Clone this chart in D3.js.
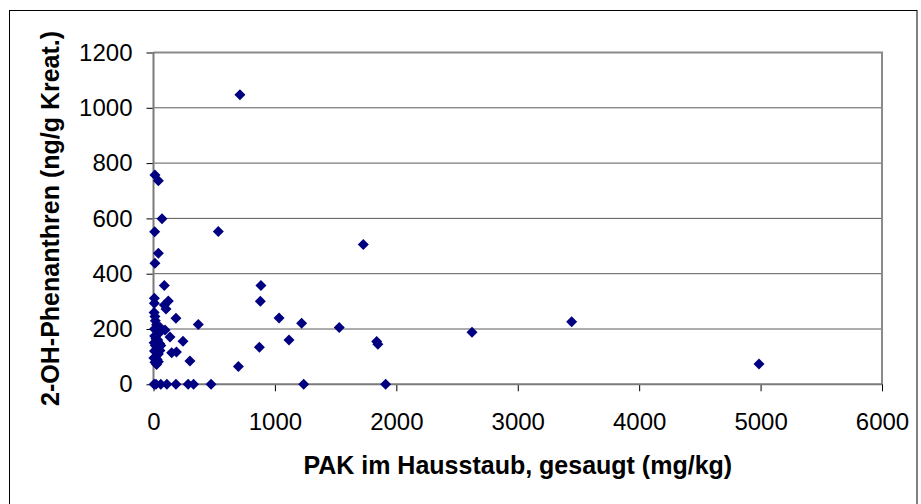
<!DOCTYPE html>
<html>
<head>
<meta charset="utf-8">
<script src="https://cdn.jsdelivr.net/npm/d3@7"></script>
<style>
  body { margin: 0; background: #fff; }
  svg text { font-family: Arial, "Liberation Sans", sans-serif; fill: #000; }
  .tick text { font-size: 24px; }
  .titles { font-size: 25px; font-weight: bold; }
</style>
</head>
<body>
<svg id="chart" width="921" height="504"></svg>
<script>
// PAK im Hausstaub (mg/kg) vs 2-OH-Phenanthren (ng/g Kreat.)
var pakValues = [
  712, 534, 1728, 885, 880, 1034, 1220, 1530, 1116, 1838, 1848, 872, 699,
  474, 1237, 1912, 2623, 3444, 4987,
  12, 40, 70, 10, 40, 12, 89, 7, 7, 122, 89, 103, 12, 185, 369, 136, 243, 150, 189, 300, 95, 53, 40,
  5, 20, 60, 110, 185, 285, 330,
  5, 15, 25, 8, 30, 45, 10, 20, 35, 5, 50, 15, 28, 8, 40, 18, 3, 30, 12, 25, 55, 60
];
var ohpValues = [
  1047, 553, 506, 357, 300, 240, 221, 205, 160, 155, 145, 134, 64,
  0, 0, 0, 188, 226, 73,
  757, 736, 599, 552, 474, 438, 357, 311, 293, 301, 287, 272, 245, 239, 216, 171, 156, 114, 117, 84, 196, 122, 82,
  0, 0, 0, 0, 0, 0, 0,
  260, 230, 215, 200, 195, 185, 175, 165, 160, 150, 148, 140, 130, 120, 110, 100, 95, 90, 80, 72, 205, 140
];
var xTicks = [0, 1000, 2000, 3000, 4000, 5000, 6000];
var yTicks = [0, 200, 400, 600, 800, 1000, 1200];
var xTitle = "PAK im Hausstaub, gesaugt (mg/kg)";
var yTitle = "2-OH-Phenanthren (ng/g Kreat.)";

var svg = d3.select("#chart");

// plot area
var pLeft = 153.5, pRight = 882, pTop = 52.5, pBottom = 384.3;

var x = d3.scaleLinear().domain([0, 6000]).range([pLeft, pRight]);
var y = d3.scaleLinear().domain([0, 1200]).range([pBottom, pTop]);

// chart border (bottom edge runs past the picture)
svg.append("rect")
  .attr("x", 9.5).attr("y", 10.5)
  .attr("width", 907.5).attr("height", 500)
  .attr("fill", "#fff").attr("stroke", "#000").attr("stroke-width", 1);

// gridlines
svg.append("g").selectAll("line")
  .data(yTicks.filter(function(d) { return d > 0; }))
  .enter().append("line")
  .attr("x1", pLeft).attr("x2", pRight)
  .attr("y1", function(d) { return y(d); })
  .attr("y2", function(d) { return y(d); })
  .attr("stroke", "#5a5a5a").attr("stroke-width", 1);

// plot area border (top / right)
svg.append("path")
  .attr("d", "M" + pLeft + "," + pTop + "H" + pRight + "V" + pBottom)
  .attr("fill", "none").attr("stroke", "#8a8a8a").attr("stroke-width", 2);

// axes
var xaxis = svg.append("g")
  .attr("transform", "translate(0," + pBottom + ")")
  .call(d3.axisBottom(x).tickValues(xTicks).tickFormat(d3.format("d"))
    .tickSizeInner(7).tickSizeOuter(0).tickPadding(21));

var yaxis = svg.append("g")
  .attr("transform", "translate(" + pLeft + ",0)")
  .call(d3.axisLeft(y).tickValues(yTicks).tickFormat(d3.format("d"))
    .tickSizeInner(7).tickSizeOuter(0).tickPadding(14));

[xaxis, yaxis].forEach(function(a) {
  a.select(".domain").remove();
  a.selectAll(".tick line").attr("stroke", "#000").attr("stroke-width", 1);
  a.attr("font-size", null).attr("font-family", null);
});
xaxis.selectAll(".tick text").attr("dy", "0.72em");

svg.append("line")
  .attr("x1", pLeft).attr("x2", pLeft).attr("y1", pTop).attr("y2", pBottom)
  .attr("stroke", "#7a7a7a").attr("stroke-width", 2);
svg.append("line")
  .attr("x1", pLeft).attr("x2", pRight).attr("y1", pBottom).attr("y2", pBottom)
  .attr("stroke", "#7a7a7a").attr("stroke-width", 2);

// diamond markers
var pts = pakValues.map(function(d, i) { return {pak: d, ohp: ohpValues[i]}; });
svg.append("g").selectAll("path.pt")
  .data(pts)
  .enter().append("path")
  .attr("class", "pt")
  .attr("d", "M0,-5.5L5.5,0L0,5.5L-5.5,0Z")
  .attr("transform", function(d) { return "translate(" + x(d.pak) + "," + y(d.ohp) + ")"; })
  .attr("fill", "#000080");

// titles
svg.append("text")
  .attr("class", "titles")
  .attr("text-anchor", "middle")
  .attr("transform", "translate(" + (pLeft + pRight) / 2 + ",474)")
  .text(xTitle);

svg.append("text")
  .attr("class", "titles")
  .attr("text-anchor", "middle")
  .attr("transform", "translate(59," + (pTop + pBottom) / 2 + ")rotate(-90)")
  .text(yTitle);
</script>
</body>
</html>
